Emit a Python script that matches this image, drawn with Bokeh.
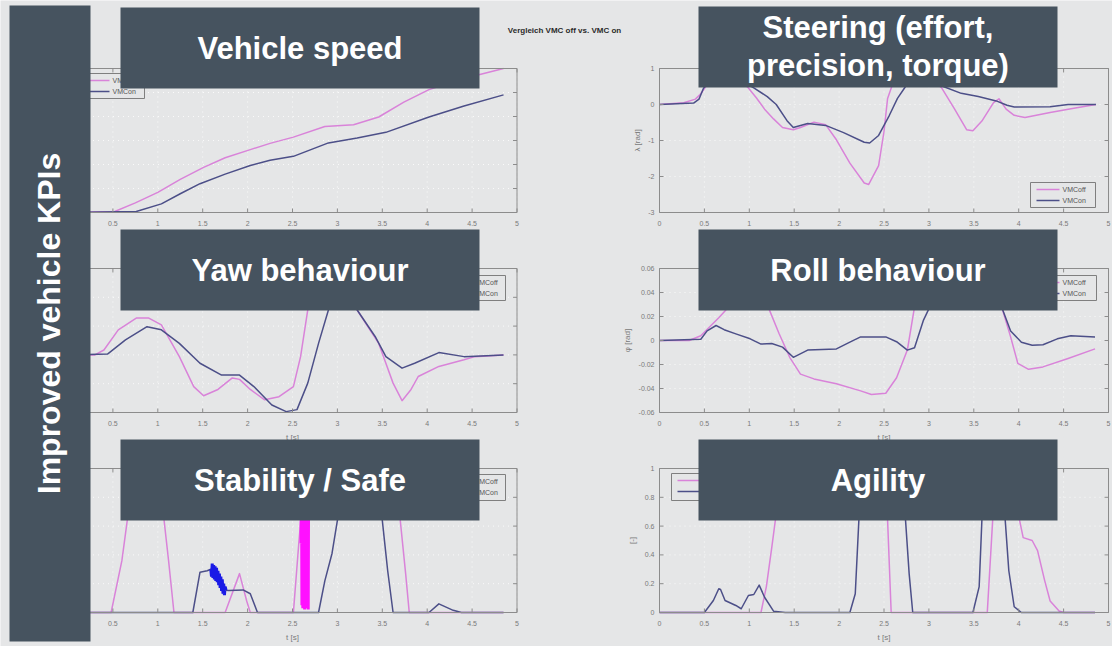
import numpy as np
from bokeh.plotting import figure
from bokeh.models import Range1d
from bokeh.core.properties import value
from bokeh.embed import file_html
from bokeh.resources import INLINE

W, H = 1112, 646

# ---------------------------------------------------------------- data
t_ticks = [0, 0.5, 1, 1.5, 2, 2.5, 3, 3.5, 4, 4.5, 5]
t_labels = ["0", "0.5", "1", "1.5", "2", "2.5", "3", "3.5", "4", "4.5", "5"]
series_names = ["VMCoff", "VMCon"]

# vehicle speed
speed_t_off = [0, 0.52, 0.75, 1.0, 1.25, 1.51, 1.75, 2.03, 2.25, 2.51, 2.86, 3.18, 3.46, 3.74, 4.02, 4.41, 4.85]
speed_off = [0, 0.2, 2.0, 4.2, 6.9, 9.4, 11.4, 13.1, 14.4, 15.7, 17.9, 18.3, 19.9, 23.0, 25.6, 27.9, 30.0]
speed_t_on = [0, 0.76, 1.04, 1.25, 1.47, 1.75, 2.03, 2.25, 2.51, 2.90, 3.22, 3.54, 4.02, 4.41, 4.85]
speed_on = [0, 0.2, 1.8, 3.9, 6.0, 8.0, 9.8, 10.9, 11.7, 14.5, 15.5, 16.7, 19.9, 22.2, 24.5]
speed_ticks = [0, 5, 10, 15, 20, 25, 30]
speed_labels = ["0", "5", "10", "15", "20", "25", "30"]

# steering angle
steer_t_off = [0, 0.27, 0.40, 0.46, 0.55, 0.70, 0.85, 0.99, 1.08, 1.17, 1.27, 1.37, 1.49, 1.57, 1.72,
               1.85, 1.97, 2.12, 2.28, 2.33, 2.44, 2.50, 2.54, 2.60, 2.75, 2.95, 3.14, 3.28, 3.42, 3.49,
               3.59, 3.72, 3.78, 3.86, 3.95, 4.07, 4.35, 4.63, 4.86]
steer_off = [0, 0.05, 0.15, 0.30, 0.62, 0.85, 0.80, 0.46, 0.18, -0.13, -0.40, -0.64, -0.70, -0.64, -0.49,
             -0.56, -0.98, -1.63, -2.18, -2.22, -1.70, -0.75, 0.17, 0.60, 0.90, 0.85, 0.47, -0.10, -0.70, -0.73,
             -0.46, 0.05, 0.16, -0.13, -0.30, -0.36, -0.22, -0.10, 0]
steer_t_on = [0, 0.38, 0.44, 0.49, 0.60, 0.80, 1.05, 1.20, 1.30, 1.42, 1.49, 1.65, 1.85, 2.05, 2.28, 2.34,
              2.44, 2.56, 2.65, 2.74, 2.90, 3.16, 3.36, 3.55, 3.75, 3.87, 3.95, 4.35, 4.55, 4.86]
steer_on = [0, 0.04, 0.15, 0.45, 0.75, 0.80, 0.46, 0.22, 0.0, -0.45, -0.64, -0.53, -0.58, -0.78, -1.05, -1.07,
            -0.86, -0.30, 0.17, 0.50, 0.75, 0.50, 0.31, 0.22, 0.10, -0.02, -0.07, -0.06, 0.0, 0]
steer_ticks = [-3, -2, -1, 0, 1]
steer_labels = ["-3", "-2", "-1", "0", "1"]

# yaw rate
yaw_t_off = [0, 0.30, 0.40, 0.56, 0.76, 0.90, 1.04, 1.24, 1.40, 1.51, 1.67, 1.83, 1.91, 2.03, 2.19, 2.35,
             2.51, 2.59, 2.67, 2.75, 2.95, 3.10, 3.22, 3.46, 3.62, 3.72, 3.82, 3.90, 4.13, 4.41, 4.53, 4.85]
yaw_off = [0, 0, 0.017, 0.087, 0.128, 0.128, 0.104, -0.006, -0.11, -0.142, -0.12, -0.08, -0.085, -0.12, -0.156, -0.145,
           -0.11, -0.006, 0.156, 0.26, 0.29, 0.24, 0.156, 0.04, -0.098, -0.159, -0.12, -0.075, -0.04, -0.017, -0.006, 0]
yaw_t_on = [0, 0.44, 0.64, 0.88, 1.04, 1.24, 1.47, 1.71, 1.91, 2.07, 2.27, 2.43, 2.55, 2.67, 2.79, 2.90,
            3.0, 3.1, 3.22, 3.42, 3.54, 3.72, 3.86, 4.13, 4.41, 4.85]
yaw_on = [0, 0.003, 0.052, 0.098, 0.087, 0.04, -0.029, -0.07, -0.07, -0.11, -0.174, -0.197, -0.19, -0.098, 0.04, 0.156,
          0.25, 0.24, 0.156, 0.064, -0.006, -0.046, -0.029, 0.008, -0.006, 0]
yaw_ticks = [-0.2, -0.1, 0, 0.1, 0.2, 0.3]
yaw_labels = ["-0.2", "-0.1", "0", "0.1", "0.2", "0.3"]

# roll angle
roll_t_off = [0, 0.33, 0.46, 0.66, 0.77, 0.90, 1.05, 1.21, 1.33, 1.45, 1.57, 1.72, 1.97, 2.24, 2.36, 2.52,
              2.64, 2.76, 2.84, 2.95, 3.50, 3.81, 3.91, 3.99, 4.11, 4.27, 4.55, 4.85]
roll_off = [0, 0, 0.004, 0.019, 0.028, 0.040, 0.040, 0.028, 0.006, -0.014, -0.028, -0.032, -0.036, -0.042, -0.045, -0.044,
            -0.031, -0.008, 0.028, 0.045, 0.050, 0.028, 0.003, -0.019, -0.024, -0.022, -0.015, -0.007]
roll_t_on = [0, 0.46, 0.53, 0.63, 0.72, 0.85, 1.01, 1.13, 1.25, 1.37, 1.49, 1.65, 1.97, 2.12, 2.24, 2.52,
             2.64, 2.76, 2.84, 2.94, 3.01, 3.30, 3.60, 3.81, 3.91, 4.03, 4.15, 4.27, 4.43, 4.58, 4.85]
roll_on = [0, 0.001, 0.008, 0.0125, 0.009, 0.0055, 0.0014, -0.003, -0.0025, -0.0055, -0.014, -0.008, -0.007, -0.0014, 0.003, 0.003,
           -0.001, -0.008, -0.006, 0.017, 0.028, 0.040, 0.040, 0.028, 0.008, -0.0014, -0.004, -0.0035, 0.0014, 0.004, 0.003]
roll_ticks = [-0.06, -0.04, -0.02, 0, 0.02, 0.04, 0.06]
roll_labels = ["-0.06", "-0.04", "-0.02", "0", "0.02", "0.04", "0.06"]

# stability flag
stab_t_off = [0, 0.48, 0.60, 0.66, 0.72, 0.80, 1.00, 1.07, 1.12, 1.18, 1.75, 1.91, 1.99, 2.03, 2.51, 2.57,
              2.60, 2.70, 2.75, 3.65, 3.70, 3.76, 3.80, 4.85]
stab_off = [0, 0, 0.36, 0.64, 0.90, 1.0, 1.0, 0.64, 0.36, 0, 0, 0.27, 0.08, 0, 0, 0.48,
            0.70, 0.80, 1.0, 1.0, 0.64, 0.27, 0, 0]
stab_t_on = [0, 1.39, 1.47, 1.55, 1.59, 1.76, 1.79, 1.95, 2.03, 2.11, 2.79, 2.86, 2.94, 3.00, 3.05, 3.10,
             3.45, 3.50, 3.56, 3.62, 4.02, 4.13, 4.29, 4.38, 4.85]
stab_on = [0, 0, 0.28, 0.29, 0.30, 0.155, 0.153, 0.157, 0.13, 0, 0, 0.22, 0.41, 0.64, 0.90, 1.0,
           1.0, 0.64, 0.29, 0, 0, 0.06, 0.015, 0, 0]
# solver chattering segments
chat_on_t = [1.59, 1.598, 1.606, 1.614, 1.622, 1.630, 1.638, 1.646, 1.654, 1.662, 1.670,
             1.678, 1.686, 1.694, 1.702, 1.710, 1.718, 1.726, 1.734, 1.742, 1.750, 1.760]
chat_on_v = [0.30, 0.25, 0.34, 0.24, 0.33, 0.23, 0.32, 0.22, 0.31, 0.21, 0.29,
             0.19, 0.27, 0.17, 0.25, 0.15, 0.23, 0.13, 0.20, 0.12, 0.18, 0.155]
chat_off_t = [2.595, 2.600, 2.605, 2.610, 2.615, 2.620, 2.625, 2.630, 2.635, 2.640,
              2.645, 2.650, 2.655, 2.660, 2.665, 2.670, 2.675, 2.680, 2.685]
chat_off_v = [0.48, 1.0, 0.05, 1.0, 0.03, 1.0, 0.05, 1.0, 0.02, 1.0,
              0.04, 1.0, 0.03, 1.0, 0.05, 1.0, 0.02, 1.0, 0.80]
unit_ticks = [0, 0.2, 0.4, 0.6, 0.8, 1]
unit_labels = ["0", "0.2", "0.4", "0.6", "0.8", "1"]

# agility index
agil_t_off = [0, 1.13, 1.19, 1.25, 1.29, 1.35, 1.45, 2.45, 2.54, 2.58, 3.65, 3.71, 3.78, 3.95, 4.01, 4.05,
              4.15, 4.21, 4.29, 4.35, 4.45, 4.50, 4.85]
agil_off = [0, 0, 0.18, 0.45, 0.64, 0.90, 1.0, 1.0, 0.64, 0, 0, 0.64, 1.0, 1.0, 0.64, 0.52,
            0.50, 0.43, 0.22, 0.08, 0.01, 0, 0]
agil_t_on = [0, 0.50, 0.60, 0.66, 0.68, 0.73, 0.85, 0.91, 0.99, 1.05, 1.11, 1.17, 1.27, 1.40, 2.12, 2.18,
             2.22, 2.28, 2.68, 2.74, 2.78, 2.82, 3.49, 3.56, 3.59, 3.65, 3.82, 3.85, 3.89, 3.95, 4.03, 4.85]
agil_on = [0, 0, 0.083, 0.165, 0.16, 0.083, 0.049, 0.026, 0.118, 0.125, 0.19, 0.106, 0.009, 0, 0, 0.13,
           0.64, 1.0, 1.0, 0.64, 0.27, 0, 0, 0.18, 0.64, 1.0, 1.0, 0.64, 0.29, 0.04, 0, 0]

figure_title = "Vergleich VMC off vs. VMC on"
side_title = "Improved vehicle KPIs"

# ---------------------------------------------------------------- style
BG = "#e5e6e7"
SLATE = "#46535f"
PINK = "#d983d9"
NAVY = "#4c4f88"
FRAME = "#8c8c8c"
TXT = "#7a7a7a"
SANS = value("Liberation Sans")

T_LIM = (0.0, 5.0)
COL_X = [(67.5, 516.5), (659.0, 1108.0)]      # frame left/right, px from left
ROW_Y = [(68.0, 212.0), (268.0, 412.0), (468.0, 612.0)]  # frame top/bottom, px from top


def yb(y):
    """convert a px row (from top) to canvas y (from bottom)"""
    return H - y


panels = [
    dict(key="speed", col=0, row=0, ylim=(0, 30), yt=speed_ticks, yl=speed_labels, ytitle=None, xtitle=False,
         curves=[(speed_t_off, speed_off), (speed_t_on, speed_on)],
         legend=(70, 73, 144, 98, 80, 109, 112)),
    dict(key="steer", col=1, row=0, ylim=(-3, 1), yt=steer_ticks, yl=steer_labels, ytitle=("λ [rad]", -22), xtitle=False,
         curves=[(steer_t_off, steer_off), (steer_t_on, steer_on)],
         legend=(1030, 182, 1095, 207, 1036, 1059, 1062)),
    dict(key="yaw", col=0, row=1, ylim=(-0.2, 0.3), yt=yaw_ticks, yl=yaw_labels, ytitle=None, xtitle=True,
         curves=[(yaw_t_off, yaw_off), (yaw_t_on, yaw_on)],
         legend=(445, 275, 505, 300, 450, 471, 474)),
    dict(key="roll", col=1, row=1, ylim=(-0.06, 0.06), yt=roll_ticks, yl=roll_labels, ytitle=("φ [rad]", -32), xtitle=True,
         curves=[(roll_t_off, roll_off), (roll_t_on, roll_on)],
         legend=(1032, 275, 1096, 300, 1037, 1059, 1062)),
    dict(key="stab", col=0, row=2, ylim=(0, 1), yt=unit_ticks, yl=unit_labels, ytitle=None, xtitle=True,
         curves=[(stab_t_off, stab_off), (stab_t_on, stab_on)],
         chatter=[(chat_off_t, chat_off_v, "#ff10ff"), (chat_on_t, chat_on_v, "#1a1ae6")],
         legend=(445, 474, 505, 500, 450, 471, 474)),
    dict(key="agil", col=1, row=2, ylim=(0, 1), yt=unit_ticks, yl=unit_labels, ytitle=("[-]", -27), xtitle=True,
         curves=[(agil_t_off, agil_off), (agil_t_on, agil_on)],
         legend=(671, 473, 745, 500, 677, 700, 703)),
]

p = figure(width=W, height=H, x_range=Range1d(0, W), y_range=Range1d(0, H),
           x_axis_type=None, y_axis_type=None, output_backend="svg",
           toolbar_location=None, min_border=0, outline_line_color=None,
           background_fill_color=BG, border_fill_color=BG)

# one pair of scales per subplot, placing its data inside its own frame
xr, yr, unit = {}, {}, {}
for pn in panels:
    L, R = COL_X[pn["col"]]
    T, B = ROW_Y[pn["row"]]
    kx = (T_LIM[1] - T_LIM[0]) / (R - L)
    x_start = T_LIM[0] - L * kx
    xr[pn["key"]] = Range1d(x_start, x_start + W * kx)
    y0, y1 = pn["ylim"]
    fb, ft = yb(B), yb(T)
    ky = (y1 - y0) / (ft - fb)
    y_start = y0 - fb * ky
    yr[pn["key"]] = Range1d(y_start, y_start + H * ky)
    unit[pn["key"]] = (kx, ky)
p.extra_x_ranges = xr
p.extra_y_ranges = yr

for pn in panels:
    k = pn["key"]
    kx, ky = unit[k]
    rn = dict(x_range_name=k, y_range_name=k)
    y0, y1 = pn["ylim"]
    x0, x1 = T_LIM

    # dotted grid
    p.segment(x0=t_ticks, y0=[y0] * len(t_ticks), x1=t_ticks, y1=[y1] * len(t_ticks),
              line_color="white", line_alpha=0.8, line_dash="1 4", line_width=1, **rn)
    p.segment(x0=[x0] * len(pn["yt"]), y0=pn["yt"], x1=[x1] * len(pn["yt"]), y1=pn["yt"],
              line_color="white", line_alpha=0.8, line_dash="1 4", line_width=1, **rn)

    # curves
    for (tt, vv), col in zip(pn["curves"], [PINK, NAVY]):
        p.line(tt, vv, line_color=col, line_width=1.5, line_join="round", **rn)
    for tt, vv, col in pn.get("chatter", []):
        p.line(tt, vv, line_color=col, line_width=3, **rn)

    # box frame and inward ticks
    p.quad(left=[x0], right=[x1], bottom=[y0], top=[y1], fill_alpha=0,
           line_color=FRAME, line_width=1, **rn)
    tl_y, tl_x = 4 * ky, 4 * kx
    n = len(t_ticks)
    p.segment(x0=t_ticks, y0=[y0] * n, x1=t_ticks, y1=[y0 + tl_y] * n, line_color=FRAME, **rn)
    p.segment(x0=t_ticks, y0=[y1] * n, x1=t_ticks, y1=[y1 - tl_y] * n, line_color=FRAME, **rn)
    m = len(pn["yt"])
    p.segment(x0=[x0] * m, y0=pn["yt"], x1=[x0 + tl_x] * m, y1=pn["yt"], line_color=FRAME, **rn)
    p.segment(x0=[x1] * m, y0=pn["yt"], x1=[x1 - tl_x] * m, y1=pn["yt"], line_color=FRAME, **rn)

    # tick labels
    p.text(x=t_ticks, y=[y0] * n, text=t_labels, text_font=SANS, text_font_size="7px",
           text_color=TXT, text_align="center", text_baseline="middle", y_offset=11, **rn)
    p.text(x=[x0] * m, y=pn["yt"], text=pn["yl"], text_font=SANS, text_font_size="7px",
           text_color=TXT, text_align="right", text_baseline="middle", x_offset=-5, **rn)

    if pn["xtitle"]:
        p.text(x=[(x0 + x1) / 2], y=[y0], text=["t [s]"], text_font=SANS, text_font_size="8px",
               text_color=TXT, text_align="center", text_baseline="middle", y_offset=25, **rn)
    if pn["ytitle"]:
        lab, off = pn["ytitle"]
        p.text(x=[x0], y=[(y0 + y1) / 2], text=[lab], text_font=SANS, text_font_size="8px",
               text_color=TXT, text_align="center", text_baseline="middle", angle=np.pi / 2,
               x_offset=off, **rn)

    # legend
    bl, bt, br, bb, ll, lr, tx = pn["legend"]
    p.quad(left=[bl], right=[br], top=[yb(bt)], bottom=[yb(bb)], fill_color=BG,
           line_color="#7f7f7f", line_width=1)
    rows = [bt + 7, bt + 18]
    for r, col, name in zip(rows, [PINK, NAVY], series_names):
        p.line([ll, lr], [yb(r), yb(r)], line_color=col, line_width=1.5)
        p.text(x=[tx], y=[yb(r)], text=[name], text_font=SANS, text_font_size="7px",
               text_color="#555555", text_align="left", text_baseline="middle")

# figure title
p.text(x=[564], y=[yb(30)], text=[figure_title], text_font=SANS, text_font_size="8px",
       text_font_style="bold", text_color="#2a2a2a", text_align="center", text_baseline="middle")

# side bar
p.quad(left=[9], right=[90], top=[yb(5)], bottom=[yb(641)], fill_color=SLATE, line_color=None)
p.text(x=[48], y=[yb(323)], text=[side_title], text_font=SANS, text_font_size="32px",
       text_font_style="bold", text_color="white", text_align="center", text_baseline="middle",
       angle=np.pi / 2)

# KPI boxes over the subplots
box_left = [120, 698, 120, 698, 120, 698]
box_top = [7, 6, 229, 229, 439, 439]
box_titles = [["Vehicle speed"], ["Steering (effort,", "precision, torque)"], ["Yaw behaviour"],
              ["Roll behaviour"], ["Stability / Safe"], ["Agility"]]
BOX_W, BOX_H = 359, 81
for bl, bt, lines in zip(box_left, box_top, box_titles):
    p.quad(left=[bl], right=[bl + BOX_W], top=[yb(bt)], bottom=[yb(bt + BOX_H)],
           fill_color=SLATE, line_color=None)
    if len(lines) == 1:
        bases = [bt + 41]
    else:
        bases = [bt + 21, bt + 59]
    p.text(x=[bl + BOX_W / 2] * len(lines), y=[yb(b) for b in bases], text=lines,
           text_font=SANS, text_font_size="31px", text_font_style="bold", text_color="white",
           text_align="center", text_baseline="alphabetic")

open("out.html", "w").write(file_html(p, INLINE))
